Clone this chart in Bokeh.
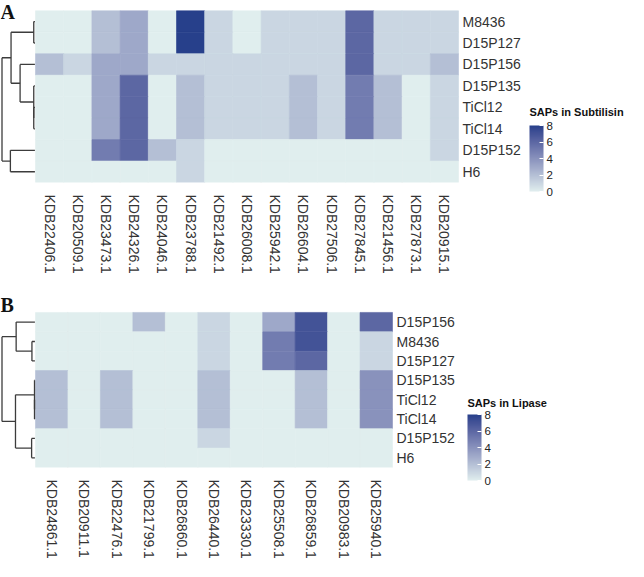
import numpy as np
from bokeh.plotting import figure
from bokeh.models import Range1d, FixedTicker, LinearColorMapper, ColorBar, ColumnDataSource
from bokeh.core.properties import value
from bokeh.layouts import column
from bokeh.transform import linear_cmap
from bokeh.embed import file_html
from bokeh.resources import INLINE

# ---------------- data: panel A (Subtilisin) ----------------
genes_a = ["KDB22406.1", "KDB20509.1", "KDB23473.1", "KDB24326.1", "KDB24046.1",
           "KDB23788.1", "KDB21492.1", "KDB26008.1", "KDB25942.1", "KDB26604.1",
           "KDB27506.1", "KDB27845.1", "KDB21456.1", "KDB27873.1", "KDB20915.1"]
strains_a = ["M8436", "D15P127", "D15P156", "D15P135", "TiCl12", "TiCl14", "D15P152", "H6"]
saps_a = [
    [0, 0, 2, 3, 0, 8, 1, 0, 1, 1, 1, 6, 1, 1, 1],  # M8436
    [0, 0, 2, 3, 0, 8, 1, 0, 1, 1, 1, 6, 1, 1, 1],  # D15P127
    [2, 1, 3, 3, 1, 1, 1, 1, 1, 1, 1, 6, 1, 1, 2],  # D15P156
    [0, 0, 3, 6, 0, 2, 1, 1, 1, 2, 1, 5, 2, 0, 1],  # D15P135
    [0, 0, 3, 6, 0, 2, 1, 1, 1, 2, 1, 5, 2, 0, 1],  # TiCl12
    [0, 0, 3, 6, 0, 2, 1, 1, 1, 2, 1, 5, 2, 0, 1],  # TiCl14
    [0, 0, 5, 6, 2, 1, 0, 0, 0, 0, 0, 0, 0, 0, 1],  # D15P152
    [0, 0, 0, 0, 0, 1, 0, 0, 0, 0, 0, 0, 0, 0, 0],  # H6
]
# dendrogram merges (left, right, height); leaves 0..7 in displayed order, new nodes 8..
merges_a = [(0, 1, 0.035), (4, 5, 0.035), (3, 9, 0.035), (2, 10, 0.45),
            (8, 11, 0.725), (6, 7, 0.745), (12, 13, 1.0)]

# ---------------- data: panel B (Lipase) ----------------
genes_b = ["KDB24861.1", "KDB20911.1", "KDB22476.1", "KDB21799.1", "KDB26860.1",
           "KDB26440.1", "KDB23330.1", "KDB25508.1", "KDB26859.1", "KDB20983.1", "KDB25940.1"]
strains_b = ["D15P156", "M8436", "D15P127", "D15P135", "TiCl12", "TiCl14", "D15P152", "H6"]
saps_b = [
    [0, 0, 0, 2, 0, 1, 0, 3, 7, 0, 6],  # D15P156
    [0, 0, 0, 0, 0, 1, 0, 5, 7, 0, 1],  # M8436
    [0, 0, 0, 0, 0, 1, 0, 5, 6, 0, 1],  # D15P127
    [2, 0, 2, 0, 0, 2, 0, 0, 2, 0, 4],  # D15P135
    [2, 0, 2, 0, 0, 2, 0, 0, 2, 0, 4],  # TiCl12
    [2, 0, 2, 0, 0, 2, 0, 0, 2, 0, 4],  # TiCl14
    [0, 0, 0, 0, 0, 1, 0, 0, 0, 0, 0],  # D15P152
    [0, 0, 0, 0, 0, 0, 0, 0, 0, 0, 0],  # H6
]
merges_b = [(1, 2, 0.09), (0, 8, 0.57), (4, 5, 0.012), (3, 10, 0.012),
            (6, 7, 0.10), (11, 12, 0.59), (9, 13, 1.0)]

color_ticks = [0, 2, 4, 6, 8]
low_color, high_color = "#E0EEEE", "#27408B"

# ---------------- colour scale (Lab interpolation like ggplot) ----------------
M = np.array([[0.4124, 0.3576, 0.1805], [0.2126, 0.7152, 0.0722], [0.0193, 0.1192, 0.9505]])
WHITE = M @ np.ones(3)
D = 6 / 29


def _f(t):
    return np.where(t > D ** 3, np.cbrt(t), t / (3 * D * D) + 4 / 29)


def _finv(t):
    return np.where(t > D, t ** 3, 3 * D * D * (t - 4 / 29))


def hex2lab(h):
    c = np.array([int(h[i:i + 2], 16) for i in (1, 3, 5)]) / 255
    lin = np.where(c <= 0.04045, c / 12.92, ((c + 0.055) / 1.055) ** 2.4)
    fx, fy, fz = _f(M @ lin / WHITE)
    return np.array([116 * fy - 16, 500 * (fx - fy), 200 * (fy - fz)])


def lab2hex(lab):
    L, a, b = lab
    fy = (L + 16) / 116
    xyz = _finv(np.array([fy + a / 500, fy, fy - b / 200])) * WHITE
    lin = np.clip(np.linalg.solve(M, xyz), 0, None)
    c = np.where(lin <= 0.0031308, 12.92 * lin, 1.055 * lin ** (1 / 2.4) - 0.055)
    c = np.clip(np.round(c * 255), 0, 255).astype(int)
    return "#%02x%02x%02x" % tuple(c)


la, lb = hex2lab(low_color), hex2lab(high_color)
palette = [lab2hex(la + (lb - la) * t) for t in np.linspace(0, 1, 256)]

FONT = "Liberation Sans"


def make_panel(genes, strains, values, merges, letter, legend_title,
               width, height, bottom, heat_left, heat_right, heat_top, heat_bottom,
               letter_top, cb_left, cb_bar_bottom, cb_title_top, cb_title_size):
    """All positions in px relative to the figure's top-left corner."""
    ncol, nrow = len(genes), len(strains)
    frame_h = height - bottom
    ux = (heat_right - heat_left) / ncol
    uy = (heat_bottom - heat_top) / nrow
    x_start = -0.5 - heat_left / ux
    x_end = x_start + width / ux
    y_top = -0.5 - heat_top / uy
    y_bot = y_top + frame_h / uy
    p = figure(width=width, height=height,
               x_range=Range1d(x_start, x_end), y_range=Range1d(y_bot, y_top),
               output_backend="svg", toolbar_location=None, y_axis_location=None,
               min_border_left=0, min_border_right=0, min_border_top=0, min_border_bottom=bottom)
    p.outline_line_color = None
    p.grid.visible = False

    # heatmap cells
    xs, ys, vs = [], [], []
    for r in range(nrow):
        for c in range(ncol):
            xs.append(c)
            ys.append(r)
            vs.append(values[r][c])
    src = ColumnDataSource(dict(x=xs, y=ys, v=vs))
    cmap = linear_cmap("v", palette, 0, 8)
    p.rect(x="x", y="y", width=1, height=1, source=src, fill_color=cmap, line_color=cmap, line_width=0.6)

    # dendrogram
    n = nrow
    pos = {i: float(i) for i in range(n)}
    hgt = {i: 0.0 for i in range(n)}
    base = -0.5 - 0.6 / ux
    scale = (heat_left - 1.5) / ux - 0.6 / ux
    sx0, sy0, sx1, sy1 = [], [], [], []
    for k, (a, b, h) in enumerate(merges):
        node = n + k
        for ch in (a, b):
            sx0.append(base - hgt[ch] * scale); sx1.append(base - h * scale)
            sy0.append(pos[ch]); sy1.append(pos[ch])
        sx0.append(base - h * scale); sx1.append(base - h * scale)
        sy0.append(pos[a]); sy1.append(pos[b])
        pos[node] = (pos[a] + pos[b]) / 2
        hgt[node] = h
    p.segment(x0=sx0, y0=sy0, x1=sx1, y1=sy1, line_color="#3c3c3c", line_width=1.3)

    # row labels (right side)
    p.text(x=[ncol - 0.5 + 4 / ux] * nrow, y=list(range(nrow)), text=strains,
           text_font=value(FONT), text_font_size=value("14px"), text_color="#333333",
           text_baseline="middle", text_align="left")

    # panel letter
    p.text(x=[x_start], y=[y_top + letter_top / uy], text=[letter],
           text_font=value("Liberation Serif"), text_font_style="bold",
           text_font_size=value("20px"), text_color="#111111",
           text_baseline="top", text_align="left")

    # legend title
    p.text(x=[x_start + cb_left / ux], y=[y_top + cb_title_top / uy], text=[legend_title],
           text_font=value(FONT), text_font_style="bold",
           text_font_size=value(cb_title_size), text_color="#111111",
           text_baseline="top", text_align="left")

    # x axis
    p.xaxis.ticker = FixedTicker(ticks=list(range(ncol)))
    p.xaxis.major_label_overrides = {i: g for i, g in enumerate(genes)}
    p.xaxis.major_label_orientation = "vertical"
    p.xaxis.axis_line_color = None
    p.xaxis.major_tick_line_color = None
    p.xaxis.minor_tick_line_color = None
    p.xaxis.major_label_text_font = FONT
    p.xaxis.major_label_text_font_size = "14px"
    p.xaxis.major_label_text_color = "#333333"
    p.xaxis.major_label_standoff = 6

    cb = ColorBar(color_mapper=LinearColorMapper(palette=palette, low=0, high=8),
                  ticker=FixedTicker(ticks=color_ticks), width=14, height=66,
                  major_label_text_font=FONT, major_label_text_font_size="11.5px",
                  major_label_text_color="#222222",
                  major_tick_line_color="white", major_tick_in=4, major_tick_out=0,
                  bar_line_color=None, padding=0, margin=0, label_standoff=3,
                  background_fill_alpha=0,
                  location=(cb_left, frame_h - cb_bar_bottom))
    p.add_layout(cb)
    return p


pA = make_panel(genes_a, strains_a, saps_a, merges_a, "A", "SAPs in Subtilisin",
                width=628, height=284, bottom=102,
                heat_left=35, heat_right=458, heat_top=10.3, heat_bottom=182,
                letter_top=0, cb_left=529, cb_bar_bottom=191, cb_title_top=105,
                cb_title_size="11px")
pB = make_panel(genes_b, strains_b, saps_b, merges_b, "B", "SAPs in Lipase",
                width=628, height=277, bottom=87,
                heat_left=35, heat_right=392, heat_top=29, heat_bottom=190,
                letter_top=10, cb_left=467, cb_bar_bottom=203, cb_title_top=117,
                cb_title_size="11px")

layout = column(pA, pB)
open("out.html", "w").write(file_html(layout, INLINE))
